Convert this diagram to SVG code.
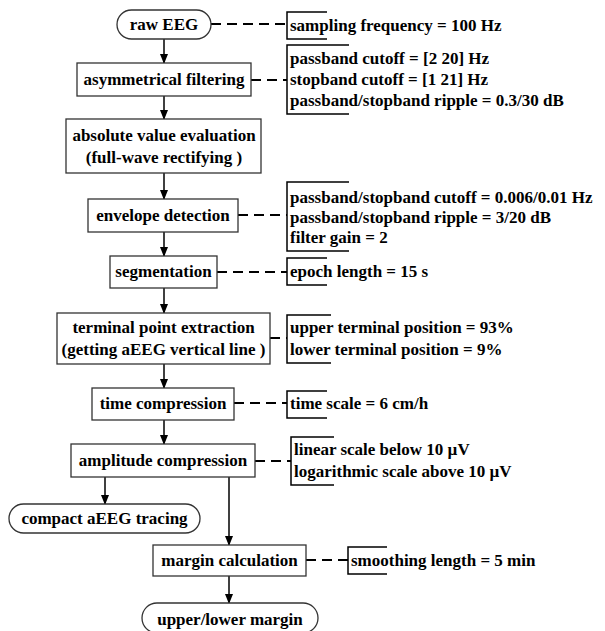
<svg xmlns="http://www.w3.org/2000/svg" width="605" height="631" viewBox="0 0 605 631">
<defs>
<marker id="ah" markerWidth="10" markerHeight="10" refX="9" refY="5" orient="auto" markerUnits="userSpaceOnUse">
<path d="M0,1 L10,5 L0,9 Z" fill="#000"/>
</marker>
</defs>
<rect width="605" height="631" fill="#fff"/>
<g id="connectors" fill="none" stroke="#000">
<g stroke-width="1.5" marker-end="url(#ah)">
<line x1="164" y1="39" x2="164" y2="63"/>
<line x1="164" y1="96" x2="164" y2="119"/>
<line x1="164" y1="173" x2="164" y2="199"/>
<line x1="164" y1="232" x2="164" y2="256"/>
<line x1="164" y1="288" x2="164" y2="313"/>
<line x1="164" y1="364" x2="164" y2="388"/>
<line x1="164" y1="420" x2="164" y2="444"/>
<line x1="105" y1="477" x2="105" y2="504"/>
<line x1="229" y1="477" x2="229" y2="545"/>
<line x1="229" y1="576" x2="229" y2="603"/>
</g>
<g stroke-width="2" stroke-dasharray="10 6">
<line x1="211" y1="24" x2="287" y2="24"/>
<line x1="251" y1="80" x2="287" y2="80"/>
<line x1="238" y1="215" x2="287" y2="215"/>
<line x1="217" y1="272" x2="287" y2="272"/>
<line x1="270" y1="338" x2="287" y2="338"/>
<line x1="234" y1="403" x2="287" y2="403"/>
<line x1="255" y1="461" x2="291" y2="461"/>
<line x1="306" y1="560" x2="348" y2="560"/>
</g>
</g>
<g fill="#000" font-family="Liberation Serif" font-weight="bold" font-size="17">
<g id="raw-eeg"><rect fill="#fff" stroke="#333" stroke-width="1.3" x="117" y="10" width="94" height="29" rx="14.5"/><text text-anchor="middle" x="164" y="30">raw EEG</text></g>
<g id="asym-filter"><rect fill="#fff" stroke="#333" stroke-width="1.3" x="77" y="63" width="174" height="33"/><text text-anchor="middle" x="164" y="85">asymmetrical filtering</text></g>
<g id="absolute"><rect fill="#fff" stroke="#333" stroke-width="1.3" x="66" y="119" width="195" height="54"/><text text-anchor="middle" x="164" y="141">absolute value evaluation</text><text text-anchor="middle" x="164" y="163">(full-wave rectifying )</text></g>
<g id="envelope"><rect fill="#fff" stroke="#333" stroke-width="1.3" x="88" y="199" width="150" height="33"/><text text-anchor="middle" x="163" y="221">envelope detection</text></g>
<g id="segmentation"><rect fill="#fff" stroke="#333" stroke-width="1.3" x="110" y="256" width="107" height="32"/><text text-anchor="middle" x="163.5" y="277">segmentation</text></g>
<g id="terminal"><rect fill="#fff" stroke="#333" stroke-width="1.3" x="57" y="313" width="213" height="51"/><text text-anchor="middle" x="163.5" y="333">terminal point extraction</text><text text-anchor="middle" x="163.5" y="355">(getting aEEG vertical line )</text></g>
<g id="time-comp"><rect fill="#fff" stroke="#333" stroke-width="1.3" x="92" y="388" width="142" height="32"/><text text-anchor="middle" x="163" y="409">time compression</text></g>
<g id="amp-comp"><rect fill="#fff" stroke="#333" stroke-width="1.3" x="71" y="444" width="184" height="33"/><text text-anchor="middle" x="163" y="466">amplitude compression</text></g>
<g id="compact"><rect fill="#fff" stroke="#333" stroke-width="1.3" x="9" y="504" width="191" height="29" rx="14.5"/><text text-anchor="middle" x="104.5" y="524">compact aEEG tracing</text></g>
<g id="margin-calc"><rect fill="#fff" stroke="#333" stroke-width="1.3" x="153" y="545" width="153" height="31"/><text text-anchor="middle" x="229.5" y="566">margin calculation</text></g>
<g id="upper-lower"><rect fill="#fff" stroke="#333" stroke-width="1.3" x="142" y="603" width="176" height="30" rx="15"/><text text-anchor="middle" x="230" y="625">upper/lower margin</text></g>
<g id="note-sampling"><path fill="none" stroke="#000" stroke-width="1.5" d="M327,12 H287 V39 H327"/><text x="290" y="31">sampling frequency = 100 Hz</text></g>
<g id="note-filter"><path fill="none" stroke="#000" stroke-width="1.5" d="M349,45 H287 V114 H349"/><text x="290" y="64">passband cutoff = [2 20] Hz</text><text x="290" y="85">stopband cutoff = [1 21] Hz</text><text x="290" y="106">passband/stopband ripple = 0.3/30 dB</text></g>
<g id="note-envelope"><path fill="none" stroke="#000" stroke-width="1.5" d="M349,182 H287 V251 H349"/><text x="290" y="203">passband/stopband cutoff = 0.006/0.01 Hz</text><text x="290" y="223">passband/stopband ripple = 3/20 dB</text><text x="290" y="243">filter gain = 2</text></g>
<g id="note-epoch"><path fill="none" stroke="#000" stroke-width="1.5" d="M327,258 H287 V285 H327"/><text x="290" y="277">epoch length = 15 s</text></g>
<g id="note-terminal"><path fill="none" stroke="#000" stroke-width="1.5" d="M331,315 H287 V363 H331"/><text x="290" y="333">upper terminal position = 93%</text><text x="290" y="355">lower terminal position = 9%</text></g>
<g id="note-time"><path fill="none" stroke="#000" stroke-width="1.5" d="M327,391 H287 V418 H327"/><text x="290" y="409">time scale = 6 cm/h</text></g>
<g id="note-amp"><path fill="none" stroke="#000" stroke-width="1.5" d="M334,437 H291 V485 H334"/><text x="294" y="455">linear scale below 10 µV</text><text x="294" y="477">logarithmic scale above 10 µV</text></g>
<g id="note-smooth"><path fill="none" stroke="#000" stroke-width="1.5" d="M387,547 H348 V574 H387"/><text x="351" y="566">smoothing length = 5 min</text></g>
</g>
</svg>
